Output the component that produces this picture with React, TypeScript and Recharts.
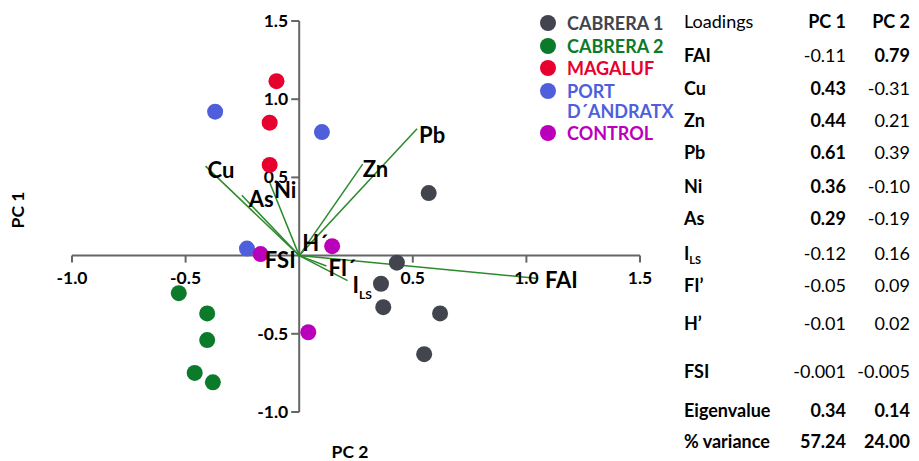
import {
  ScatterChart,
  Scatter,
  XAxis,
  YAxis,
  ReferenceLine,
  ReferenceDot,
  Legend,
} from "recharts";

const FONT = "Lato, 'Open Sans', sans-serif";

// ---- data --------------------------------------------------------------
// sample scores: x = PC 2, y = PC 1
const cabrera1 = [
  { x: 0.57, y: 0.4 },
  { x: 0.43, y: -0.045 },
  { x: 0.36, y: -0.18 },
  { x: 0.37, y: -0.33 },
  { x: 0.62, y: -0.37 },
  { x: 0.55, y: -0.63 },
];
const cabrera2 = [
  { x: -0.53, y: -0.24 },
  { x: -0.405, y: -0.37 },
  { x: -0.405, y: -0.54 },
  { x: -0.46, y: -0.75 },
  { x: -0.38, y: -0.81 },
];
const magaluf = [
  { x: -0.1, y: 1.115 },
  { x: -0.13, y: 0.85 },
  { x: -0.13, y: 0.58 },
];
const portAndratx = [
  { x: -0.37, y: 0.92 },
  { x: 0.1, y: 0.79 },
  { x: -0.23, y: 0.045 },
];
const control = [
  { x: -0.17, y: 0.01 },
  { x: 0.145, y: 0.06 },
  { x: 0.04, y: -0.49 },
];

const xTicks = [-1.0, -0.5, 0.5, 1.0, 1.5];
const yTicks = [1.5, 1.0, 0.5, -0.5, -1.0];

// loadings table
const variables = ["FAI", "Cu", "Zn", "Pb", "Ni", "As", "ILS", "FI’", "H’", "FSI"];
const chartLabels = ["FAI", "Cu", "Zn", "Pb", "Ni", "As", "ILS", "FI´", "H´", "FSI"];
const pc1Loadings = [-0.11, 0.43, 0.44, 0.61, 0.36, 0.29, -0.12, -0.05, -0.01, -0.001];
const pc2Loadings = [0.79, -0.31, 0.21, 0.39, -0.1, -0.19, 0.16, 0.09, 0.02, -0.005];
const dominantPc = [2, 1, 1, 1, 1, 1, 0, 0, 0, 0];
const eigenvalues = [0.34, 0.14];
const pctVariance = [57.24, 24.0];

// biplot arrows are the loadings stretched by this factor
const VECTOR_SCALE = 1.33;

// ---- styling / layout --------------------------------------------------
const series = [
  { name: "CABRERA 1", data: cabrera1, color: "#42454d" },
  { name: "CABRERA 2", data: cabrera2, color: "#0b7a2b" },
  { name: "MAGALUF", data: magaluf, color: "#e8002e" },
  { name: "PORT D´ANDRATX", data: portAndratx, color: "#4f5fdc" },
  { name: "CONTROL", data: control, color: "#bb00bb" },
];
const seriesOrder = series.map((s) => s.name);

const labelOffsets: Record<string, { dx: number; dy: number; anchor?: "start" | "end" }> = {
  FAI: { dx: 7, dy: 10 },
  Cu: { dx: 2, dy: 12 },
  Zn: { dx: 0, dy: 13 },
  Pb: { dx: 2, dy: 14 },
  Ni: { dx: 5, dy: 17 },
  As: { dx: 7, dy: 12 },
  ILS: { dx: 5, dy: 12 },
  "FI´": { dx: 2, dy: 10 },
  "H´": { dx: -3, dy: -7 },
  FSI: { dx: -2, dy: 12, anchor: "end" },
};

const TABLE_ROW_Y = [62, 95, 127, 159, 193, 225, 260, 292, 330, 378];
const fmt = (v: number) => (Math.abs(v) < 0.01 ? v.toFixed(3) : v.toFixed(2));

const vectors = variables.map((v, i) => ({
  label: chartLabels[i],
  x: pc2Loadings[i] * VECTOR_SCALE,
  y: pc1Loadings[i] * VECTOR_SCALE,
}));

const LegendContent = ({ payload }: any) => {
  const items = [...(payload || [])].sort(
    (a: any, b: any) => seriesOrder.indexOf(a.value) - seriesOrder.indexOf(b.value)
  );
  return (
    <div style={{ fontFamily: FONT, fontWeight: 700, fontSize: 18 }}>
      {items.map((item: any) => {
        const name: string = item.value;
        // long names go on two lines
        const cut = name.indexOf(" ");
        const lines = name.length > 12 ? [name.slice(0, cut), name.slice(cut + 1)] : [name];
        return (
          <div
            key={name}
            style={{ display: "flex", alignItems: "flex-start", marginBottom: 2.5, lineHeight: "20px" }}
          >
            <svg width={16} height={20} style={{ flexShrink: 0 }}>
              <circle cx={8} cy={10} r={8} fill={item.color} />
            </svg>
            <span style={{ marginLeft: 11, color: item.color, whiteSpace: "nowrap" }}>
              {lines.map((l) => (
                <div key={l}>{l}</div>
              ))}
            </span>
          </div>
        );
      })}
    </div>
  );
};

const VarLabel = ({ text, x, y, size, anchor }: any) => {
  if (text === "ILS") {
    return (
      <text x={x} y={y} fontFamily={FONT} fontWeight={700} fontSize={size} textAnchor={anchor}>
        I
        <tspan fontSize={size * 0.55} dy={size * 0.3}>
          LS
        </tspan>
      </text>
    );
  }
  return (
    <text x={x} y={y} fontFamily={FONT} fontWeight={700} fontSize={size} textAnchor={anchor}>
      {text}
    </text>
  );
};

export default function App() {
  return (
    <div style={{ position: "absolute", left: 0, top: 0, width: 919, height: 461, background: "#fff" }}>
      <ScatterChart width={919} height={461} margin={{ top: 21, right: 279, bottom: 49, left: 72 }}>
        <XAxis type="number" dataKey="x" domain={[-1, 1.5]} hide allowDataOverflow />
        <YAxis type="number" dataKey="y" domain={[-1, 1.5]} hide allowDataOverflow />

        <ReferenceLine y={0} stroke="#666" strokeWidth={2} />
        <ReferenceLine x={0} stroke="#666" strokeWidth={2} />
        {xTicks.map((t) => (
          <ReferenceDot
            key={"xt" + t}
            x={t}
            y={0}
            shape={(p: any) => (
              <g>
                <line x1={p.cx} y1={p.cy} x2={p.cx} y2={p.cy + 7} stroke="#666" strokeWidth={2} />
                <text x={p.cx} y={p.cy + 28} textAnchor="middle" fontFamily={FONT} fontWeight={700} fontSize={17.5}>
                  {t.toFixed(1)}
                </text>
              </g>
            )}
          />
        ))}
        {yTicks.map((t) => (
          <ReferenceDot
            key={"yt" + t}
            x={0}
            y={t}
            shape={(p: any) => (
              <g>
                <line x1={p.cx - 8} y1={p.cy} x2={p.cx} y2={p.cy} stroke="#666" strokeWidth={2} />
                <text x={p.cx - 11} y={p.cy + 6} textAnchor="end" fontFamily={FONT} fontWeight={700} fontSize={17.5}>
                  {t.toFixed(1)}
                </text>
              </g>
            )}
          />
        ))}

        {vectors.map((v) => (
          <ReferenceLine
            key={"v" + v.label}
            segment={[
              { x: 0, y: 0 },
              { x: v.x, y: v.y },
            ]}
            stroke="#2b8a2b"
            strokeWidth={1.5}
          />
        ))}

        {series.map((s) => (
          <Scatter
            key={s.name}
            name={s.name}
            data={s.data}
            fill={s.color}
            isAnimationActive={false}
            shape={(p: any) => <circle cx={p.cx} cy={p.cy} r={8} fill={s.color} />}
          />
        ))}

        {vectors.map((v) => {
          const o = labelOffsets[v.label];
          return (
            <ReferenceDot
              key={"l" + v.label}
              x={v.x}
              y={v.y}
              shape={(p: any) => (
                <VarLabel text={v.label} x={p.cx + o.dx} y={p.cy + o.dy} size={22} anchor={o.anchor || "start"} />
              )}
            />
          );
        })}

        <Legend
          layout="vertical"
          align="center"
          verticalAlign="middle"
          content={<LegendContent />}
          wrapperStyle={{ left: 540, top: 13, width: 150 }}
        />
      </ScatterChart>

      <svg
        width={919}
        height={461}
        style={{ position: "absolute", left: 0, top: 0, pointerEvents: "none" }}
        fontFamily={FONT}
        fontSize={18}
      >
        <text x={18} y={210} transform="rotate(-90 18 210)" dy={6} textAnchor="middle" fontWeight={700} fontSize={17.5}>
          PC 1
        </text>
        <text x={350} y={458} textAnchor="middle" fontWeight={700} fontSize={17.5}>
          PC 2
        </text>

        <text x={684} y={28}>Loadings</text>
        <text x={846} y={28} textAnchor="end" fontWeight={700}>PC 1</text>
        <text x={910} y={28} textAnchor="end" fontWeight={700}>PC 2</text>

        {variables.map((name, i) => (
          <g key={name}>
            {name === "ILS" ? (
              <text x={684} y={TABLE_ROW_Y[i]} fontWeight={700}>
                I<tspan fontSize={11} dy={4}>LS</tspan>
              </text>
            ) : (
              <text x={684} y={TABLE_ROW_Y[i]} fontWeight={700}>
                {name}
              </text>
            )}
            <text x={846} y={TABLE_ROW_Y[i]} textAnchor="end" fontWeight={dominantPc[i] === 1 ? 700 : 400}>
              {fmt(pc1Loadings[i])}
            </text>
            <text x={910} y={TABLE_ROW_Y[i]} textAnchor="end" fontWeight={dominantPc[i] === 2 ? 700 : 400}>
              {fmt(pc2Loadings[i])}
            </text>
          </g>
        ))}

        <text x={684} y={417} fontWeight={700}>Eigenvalue</text>
        <text x={846} y={417} textAnchor="end" fontWeight={700}>{eigenvalues[0].toFixed(2)}</text>
        <text x={910} y={417} textAnchor="end" fontWeight={700}>{eigenvalues[1].toFixed(2)}</text>

        <text x={684} y={448} fontWeight={700}>% variance</text>
        <text x={846} y={448} textAnchor="end" fontWeight={700}>{pctVariance[0].toFixed(2)}</text>
        <text x={910} y={448} textAnchor="end" fontWeight={700}>{pctVariance[1].toFixed(2)}</text>
      </svg>
    </div>
  );
}
